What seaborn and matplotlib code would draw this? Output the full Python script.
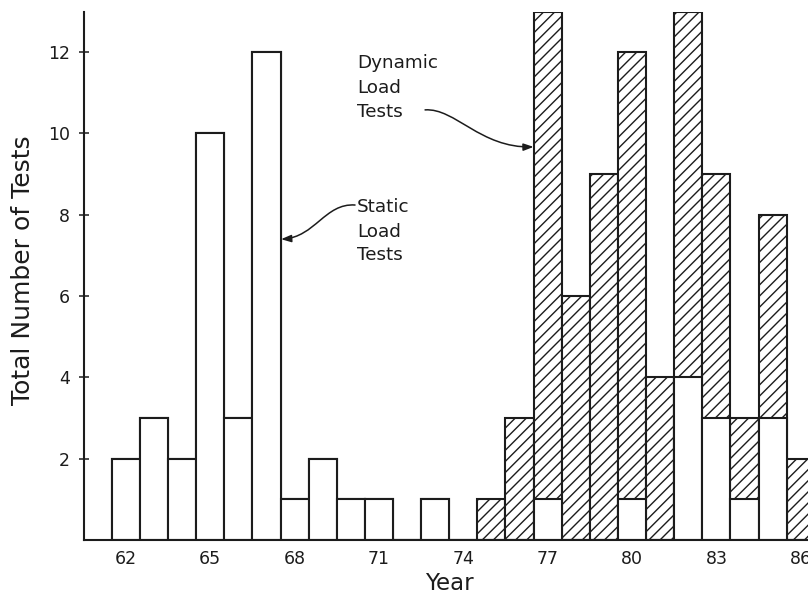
import numpy as np
import pandas as pd
import matplotlib
matplotlib.use("Agg")
import matplotlib.pyplot as plt
import seaborn as sns
from matplotlib.path import Path
from matplotlib.patches import FancyArrowPatch

# ---------------- data ----------------
years = list(range(62, 87))
static_tests = [2, 3, 2, 10, 3, 12, 1, 2, 1, 1, 0, 1, 0,
                0, 0, 1, 0, 0, 1, 0, 4, 3, 1, 3, 0]
dynamic_tests = [0, 0, 0, 0, 0, 0, 0, 0, 0, 0, 0, 0, 0,
                 1, 3, 12, 6, 9, 11, 4, 9, 6, 2, 5, 2]
year_ticks = [62, 65, 68, 71, 74, 77, 80, 83, 86]
count_ticks = [2, 4, 6, 8, 10, 12]
x_label = "Year"
y_label = "Total Number of Tests"
dynamic_text = ["Dynamic", "Load", "Tests"]
static_text = ["Static", "Load", "Tests"]

df = pd.DataFrame({"year": years, "static": static_tests, "dynamic": dynamic_tests})
df["total"] = df["static"] + df["dynamic"]

# ---------------- style ----------------
sns.set_theme(style="white")
plt.rcParams["font.family"] = ["DejaVu Sans"]
plt.rcParams["hatch.linewidth"] = 1.0
ink = "#1c1c1c"

fig = plt.figure(figsize=(8.08, 5.97), dpi=100)
ax = fig.add_axes([0.1035, 0.0955, 0.905, 0.8852])

# hatched (total) bars, then white static bars on top of their lower part
sns.barplot(data=df, x="year", y="total", native_scale=True, width=1,
            color="white", saturation=1, edgecolor=ink, linewidth=1.5,
            hatch="///", errorbar=None, ax=ax)
sns.barplot(data=df, x="year", y="static", native_scale=True, width=1,
            color="white", saturation=1, edgecolor=ink, linewidth=1.5,
            errorbar=None, ax=ax)

ax.set_xlim(60.5, 86.5)
ax.set_ylim(0, 13)
ax.set_xticks(year_ticks)
ax.set_xticklabels([str(y) for y in year_ticks])
ax.set_yticks(count_ticks)
ax.set_yticklabels([str(c) for c in count_ticks])

for side in ["top", "right"]:
    ax.spines[side].set_visible(False)
for side in ["left", "bottom"]:
    ax.spines[side].set_color(ink)
    ax.spines[side].set_linewidth(1.5)

ax.tick_params(axis="y", direction="inout", length=6.5, width=1.1,
               color=ink, pad=6.5, labelsize=12.5, labelcolor=ink, left=True)
ax.tick_params(axis="x", length=0, pad=7, labelsize=12.5, labelcolor=ink)

ax.set_xlabel(x_label, fontsize=16.5, color=ink, labelpad=3)
ax.set_ylabel(y_label, fontsize=18, color=ink)
ax.yaxis.set_label_coords(-0.066, 0.511)

# ---------------- annotations ----------------
for txt, yv in zip(dynamic_text, [11.73, 11.12, 10.53]):
    ax.text(70.22, yv, txt, fontsize=13.2, color=ink, ha="left", va="center")
for txt, yv in zip(static_text, [8.19, 7.58, 7.01]):
    ax.text(70.22, yv, txt, fontsize=13.2, color=ink, ha="left", va="center")


def curved_arrow(pts):
    path = Path(pts, [Path.MOVETO, Path.CURVE4, Path.CURVE4, Path.CURVE4])
    arr = FancyArrowPatch(path=path,
                          arrowstyle="-|>,head_length=0.5,head_width=0.18",
                          mutation_scale=12, lw=1.1, color=ink,
                          transform=ax.transData, clip_on=False)
    ax.add_patch(arr)


curved_arrow([(72.64, 10.58), (73.71, 10.63), (74.60, 9.64), (76.5, 9.67)])
curved_arrow([(70.15, 8.24), (69.08, 8.29), (68.73, 7.45), (67.52, 7.40)])

fig.savefig("out.png", dpi=100, facecolor="white")
